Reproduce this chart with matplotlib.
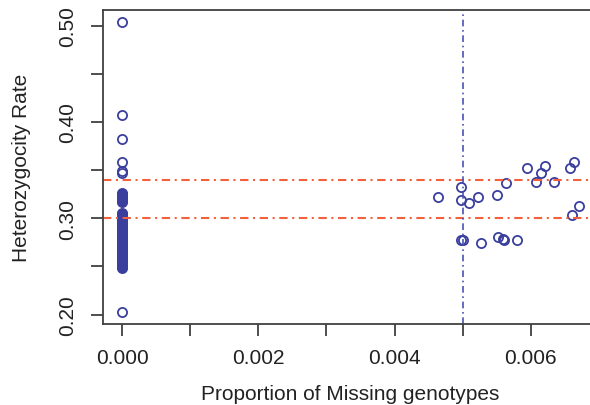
import matplotlib
matplotlib.use("Agg")
import matplotlib.pyplot as plt

# Samples with no missing genotypes (x = 0)
zero_missing_het = [0.504, 0.407, 0.382, 0.358, 0.349, 0.347,
                    0.326, 0.325, 0.324, 0.323, 0.322, 0.321, 0.320, 0.319, 0.318, 0.317,
                    0.306, 0.305, 0.304, 0.303, 0.302, 0.301, 0.300, 0.299, 0.298,
                    0.297, 0.296, 0.295, 0.294, 0.293, 0.292, 0.291, 0.290, 0.289,
                    0.288, 0.287, 0.286, 0.285, 0.284, 0.283, 0.282, 0.281, 0.280,
                    0.279, 0.278, 0.277, 0.276, 0.275, 0.274, 0.273, 0.272, 0.271,
                    0.270, 0.269, 0.268, 0.267, 0.266, 0.265, 0.264, 0.263, 0.262,
                    0.261, 0.260, 0.259, 0.258, 0.257, 0.256, 0.255, 0.254, 0.253,
                    0.252, 0.251, 0.250, 0.249, 0.248, 0.203]

# Samples with some missing genotypes
missing_prop = [0.00464, 0.00497, 0.00498, 0.00509, 0.00523, 0.00550, 0.00563,
                0.00594, 0.00608, 0.00615, 0.00620, 0.00634, 0.00658, 0.00663,
                0.00660, 0.00670, 0.00498, 0.00501, 0.00527, 0.00552, 0.00559,
                0.00560, 0.00579]
missing_het = [0.322, 0.3325, 0.319, 0.316, 0.322, 0.324, 0.337,
               0.352, 0.338, 0.347, 0.354, 0.338, 0.352, 0.358,
               0.303, 0.313, 0.2775, 0.277, 0.2745, 0.2805, 0.2787,
               0.278, 0.2777]

het_thresholds = [0.30, 0.34]
missing_threshold = 0.005

x_ticks = [0.000, 0.001, 0.002, 0.003, 0.004, 0.005, 0.006]
x_labels = ["0.000", "", "0.002", "", "0.004", "", "0.006"]
y_ticks = [0.20, 0.25, 0.30, 0.35, 0.40, 0.45, 0.50]
y_labels = ["0.20", "", "0.30", "", "0.40", "", "0.50"]

plt.rcParams['font.family'] = ['Liberation Sans', 'DejaVu Sans']

fig = plt.figure(figsize=(5.9, 4.06), dpi=100)
ax = fig.add_axes([103/590, 81/406, 494/590, 314/406])

pt_color = "#3a3f9e"
ax.plot([0.0]*len(zero_missing_het), zero_missing_het, linestyle="none",
        marker="o", markersize=6.6, markerfacecolor="none",
        markeredgecolor=pt_color, markeredgewidth=1.3, clip_on=False)
ax.plot(missing_prop, missing_het, linestyle="none",
        marker="o", markersize=6.6, markerfacecolor="none",
        markeredgecolor=pt_color, markeredgewidth=1.3, clip_on=False)

for h in het_thresholds:
    ax.axhline(h, color="#f2603c", linewidth=1.5, dashes=[4, 2.2, 1, 2.2])
ax.axvline(missing_threshold, color="#4a52b4", linewidth=1.2, dashes=[4, 2.2, 1, 2.2])

ax.set_xlim(-0.000279, 0.00697)
ax.set_ylim(0.1903, 0.5163)

ax.set_xticks(x_ticks)
ax.set_xticklabels(x_labels)
ax.set_yticks(y_ticks)
ax.set_yticklabels(y_labels, rotation=90, va="center")

for s in ax.spines.values():
    s.set_linewidth(1.3)
    s.set_color("#404040")
ax.tick_params(axis="both", direction="out", length=8.5, width=1.3,
               color="#404040", labelsize=15, labelcolor="#222222")
ax.tick_params(axis="x", pad=9)
ax.tick_params(axis="y", pad=10)

ax.set_xlabel("Proportion of Missing genotypes", fontsize=15, color="#222222", labelpad=12)
ax.set_ylabel("Heterozygocity Rate", fontsize=15, color="#222222", labelpad=20)

fig.savefig("out.png", dpi=100)
